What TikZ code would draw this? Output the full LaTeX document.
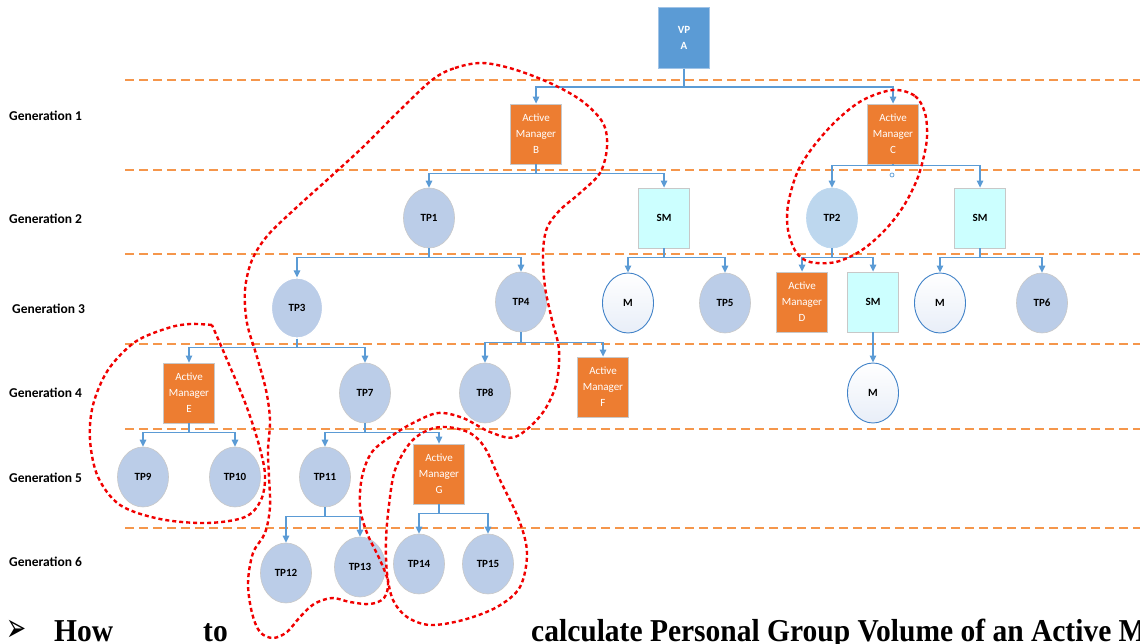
\documentclass[tikz,border=0pt]{standalone}
\usepackage{fontspec}
\setmainfont{Liberation Serif}
\newfontfamily\carlito{Carlito}
\newfontfamily\dejavu{DejaVu Sans}
\usetikzlibrary{arrows.meta,shapes.geometric}

\definecolor{mgrorange}{RGB}{237,125,49}
\definecolor{vpblue}{RGB}{91,155,213}
\definecolor{vpedge}{RGB}{160,195,230}
\definecolor{linkblue}{RGB}{91,155,213}
\definecolor{tpfill}{RGB}{187,205,232}
\definecolor{tplight}{RGB}{189,215,238}
\definecolor{smfill}{RGB}{204,255,255}
\definecolor{boxedge}{RGB}{200,200,200}
\definecolor{medge}{RGB}{65,130,200}
\definecolor{mshade}{RGB}{232,238,248}
\definecolor{genline}{RGB}{245,150,75}
\definecolor{loopred}{RGB}{240,0,0}

\begin{document}
\begin{tikzpicture}[x=1pt,y=-1pt,
  nodefont/.style={font=\carlito\fontsize{11}{16}\selectfont},
  vpbox/.style={rectangle, fill=vpblue, draw=vpedge, line width=0.8pt,
    minimum width=51pt, minimum height=61pt, inner sep=0pt,
    text=white, font=\carlito\bfseries\fontsize{11}{16}\selectfont, align=center},
  mgrbox/.style={rectangle, fill=mgrorange, draw=boxedge, line width=0.8pt,
    minimum width=51pt, minimum height=60pt, inner sep=0pt,
    text=white, nodefont, align=center},
  tpnode/.style={ellipse, fill=tpfill, draw=boxedge, line width=0.6pt,
    minimum width=51pt, minimum height=60pt, inner sep=0pt,
    font=\carlito\bfseries\fontsize{11}{13}\selectfont},
  smbox/.style={rectangle, fill=smfill, draw=boxedge, line width=0.8pt,
    minimum width=51pt, minimum height=60pt, inner sep=0pt,
    font=\carlito\bfseries\fontsize{11}{13}\selectfont},
  mnode/.style={ellipse, top color=white, bottom color=mshade, draw=medge, line width=0.9pt,
    minimum width=51pt, minimum height=60pt, inner sep=0pt,
    font=\carlito\bfseries\fontsize{11}{13}\selectfont},
  genlabel/.style={anchor=west, inner sep=0pt, font=\carlito\bfseries\fontsize{13.5}{16}\selectfont},
  genrule/.style={draw=genline, line width=1.5pt, dash pattern=on 9pt off 5pt},
  link/.style={draw=linkblue, line width=1.3pt, -{Triangle[width=6.5pt,length=7pt]}},
  group/.style={draw=loopred, line width=2.4pt, dash pattern=on 4pt off 3pt},
  bottomtext/.style={anchor=base west, inner sep=0pt, yscale=1.08,
    font=\bfseries\fontsize{29.5}{32}\selectfont}
]
\useasboundingbox (0,0) rectangle (1140,644);

% generation separators
\foreach \yy in {80,170,254,344,429,528}
  \draw[genrule] (125,\yy) -- (1140,\yy);

% generation labels
\node[genlabel] (g1) at (9,116) {Generation 1};
\node[genlabel] (g2) at (9,219) {Generation 2};
\node[genlabel] (g3) at (12,309) {Generation 3};
\node[genlabel] (g4) at (9,393) {Generation 4};
\node[genlabel] (g5) at (9,478) {Generation 5};
\node[genlabel] (g6) at (9,562) {Generation 6};

% top of the tree
\node[vpbox] (VP) at (684,38) {VP\\A};

% generation 1
\node[mgrbox] (B) at (536,134) {Active\\Manager\\B};
\node[mgrbox] (C) at (893,134) {Active\\Manager\\C};

% generation 2
\node[tpnode] (TP1) at (429,218) {TP1};
\node[smbox] (SMa) at (664,218) {SM};
\node[tpnode, fill=tplight, draw=tplight] (TP2) at (832,218) {TP2};
\node[smbox] (SMb) at (980,218) {SM};
\node[circle, draw=linkblue, line width=0.7pt, inner sep=0pt, minimum size=4pt] (dot) at (892,175) {};

% generation 3
\node[tpnode, draw=white, line width=1.2pt] (TP3) at (297,308) {TP3};
\node[tpnode] (TP4) at (521,302) {TP4};
\node[mnode] (Ma) at (628,303) {M};
\node[tpnode] (TP5) at (725,303) {TP5};
\node[mgrbox] (D) at (802,302) {Active\\Manager\\D};
\node[smbox] (SMc) at (873,302) {SM};
\node[mnode] (Mb) at (940,303) {M};
\node[tpnode] (TP6) at (1042,303) {TP6};

% generation 4
\node[mgrbox] (E) at (189,393) {Active\\Manager\\E};
\node[tpnode] (TP7) at (365,393) {TP7};
\node[tpnode] (TP8) at (485,393) {TP8};
\node[mgrbox] (F) at (603,387) {Active\\Manager\\F};
\node[mnode] (Mc) at (873,393) {M};

% generation 5
\node[tpnode] (TP9) at (143,477) {TP9};
\node[tpnode] (TP10) at (235,477) {TP10};
\node[tpnode] (TP11) at (325,477) {TP11};
\node[mgrbox] (G) at (439,474) {Active\\Manager\\G};

% generation 6
\node[tpnode] (TP12) at (286,573) {TP12};
\node[tpnode] (TP13) at (360,567) {TP13};
\node[tpnode] (TP14) at (419,564) {TP14};
\node[tpnode] (TP15) at (488,564) {TP15};

% connectors
\draw[link] (VP.south) -- ++(0,18) -| (B.north);
\draw[link] (VP.south) -- ++(0,18) -| (C.north);
\draw[link] (B.south) -- ++(0,9) -| (TP1.north);
\draw[link] (B.south) -- ++(0,9) -| (SMa.north);
\draw[link] (C.south) -- ++(0,1) -| (TP2.north);
\draw[link] (C.south) -- ++(0,1) -| (SMb.north);
\draw[link] (TP1.south) -- ++(0,9) -| (TP3.north);
\draw[link] (TP1.south) -- ++(0,9) -| (TP4.north);
\draw[link] (SMa.south) -- ++(0,9) -| (Ma.north);
\draw[link] (SMa.south) -- ++(0,9) -| (TP5.north);
\draw[link] (TP2.south) -- ++(0,9) -| (D.north);
\draw[link] (TP2.south) -- ++(0,9) -| (SMc.north);
\draw[link] (SMb.south) -- ++(0,9) -| (Mb.north);
\draw[link] (SMb.south) -- ++(0,9) -| (TP6.north);
\draw[link] (TP3.south) -- ++(0,9) -| (E.north);
\draw[link] (TP3.south) -- ++(0,9) -| (TP7.north);
\draw[link] (TP4.south) -- ++(0,10) -| (TP8.north);
\draw[link] (TP4.south) -- ++(0,10) -| (F.north);
\draw[link] (SMc.south) -- (Mc.north);
\draw[link] (E.south) -- ++(0,9) -| (TP9.north);
\draw[link] (E.south) -- ++(0,9) -| (TP10.north);
\draw[link] (TP7.south) -- ++(0,9) -| (TP11.north);
\draw[link] (TP7.south) -- ++(0,9) -| (G.north);
\draw[link] (TP11.south) -- ++(0,9) -| (TP12.north);
\draw[link] (TP11.south) -- ++(0,9) -| (TP13.north);
\draw[link] (G.south) -- ++(0,9) -| (TP14.north);
\draw[link] (G.south) -- ++(0,9) -| (TP15.north);

% group outlines
\draw[group] plot[smooth cycle, tension=0.55] coordinates {
  (432,80) (455,68) (482,63) (513,69) (550,83) (582,101) (603,123) (607,147)
  (600,173) (580,193) (560,210) (547,228) (543,253) (545,287) (552,320)
  (559,350) (556,385) (541,415) (515,437) (490,432) (463,418) (438,413)
  (413,423) (393,435) (372,452) (362,477) (360,507) (367,533) (380,560)
  (388,582) (384,598) (370,604) (350,602) (332,598) (314,604) (300,617)
  (287,632) (273,638) (260,632) (252,613) (248,583) (253,553) (265,533)
  (270,507) (269,477) (268,450) (270,420) (266,390) (257,357) (247,323)
  (245,290) (252,260) (268,235) (297,207) (327,180) (363,147) (397,113)};
\draw[group] plot[smooth, tension=0.55] coordinates {
  (212,325) (190,324) (168,328) (135,342) (108,370) (93,405) (90,440)
  (98,477) (120,505) (160,519) (207,523) (245,517) (261,500) (265,475)
  (259,445) (246,405) (228,362) (212,325)};
\draw[group] plot[smooth cycle, tension=0.55] coordinates {
  (893,90) (915,96) (925,113) (927,137) (923,160) (916,182) (903,207)
  (885,230) (862,250) (836,262) (810,262) (796,252) (788,230) (788,205)
  (797,173) (813,147) (837,120) (863,100)};
\draw[group] plot[smooth cycle, tension=0.55] coordinates {
  (447,427) (470,433) (485,448) (500,480) (519,520) (527,553) (520,587)
  (497,607) (463,620) (430,625) (407,617) (393,600) (387,573) (386,540)
  (389,505) (395,470) (410,443) (428,430)};

% caption line below the tree
\node[anchor=center, inner sep=0pt, xscale=0.6,
  font=\dejavu\fontsize{40}{44}\selectfont] (bullet) at (17,631) {➢};
\node[bottomtext] (how) at (54,641) {How};
\node[bottomtext] (to) at (203,641) {to};
\node[bottomtext] (calc) at (531,641) {calculate Personal Group Volume of an Active M};
\end{tikzpicture}
\end{document}
